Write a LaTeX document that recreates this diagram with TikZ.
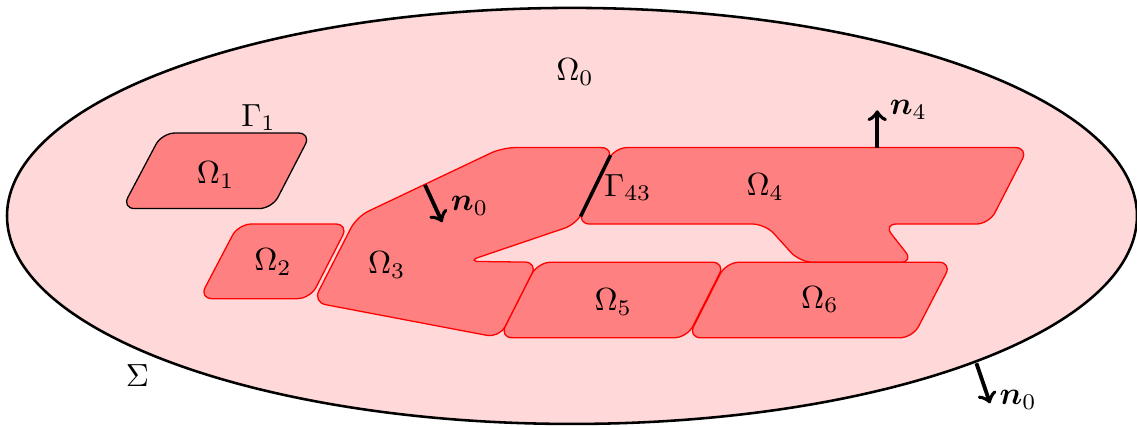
\documentclass[tikz,border=0pt]{standalone}
\usepackage{amsmath, amssymb}
\usepackage{tikz}
\usetikzlibrary{calc}

\begin{document}
\begin{tikzpicture}[
    every node/.style={align=center},
    outer/.style={thick, fill=red!15},
    subdom/.style={draw=red, fill=red!50, rounded corners},
    normalvec/.style={->, very thick},
    iface/.style={line width=1.1pt}
]
\useasboundingbox (0,0) rectangle (12.495,4.692);

% Outer region
\draw[outer] (6.286,2.319) ellipse (6.209 and 2.286);

% Corners
\coordinate (a) at (3.44,1.37);
\coordinate (b) at (3.92,2.31);
\coordinate (c) at (5.52,3.07);
\coordinate (d) at (6.75,3.07);
\coordinate (e) at (6.34,2.23);
\coordinate (g) at (5.13,1.82);
\coordinate (h) at (5.91,1.81);
\coordinate (i) at (5.49,0.98);

% Subdomains
\draw[subdom, draw=black] (1.34,2.40) -- (1.78,3.23) -- (3.42,3.23) -- (2.99,2.40) -- cycle;
\draw[subdom] (2.19,1.41) -- (2.62,2.23) -- (3.83,2.23) -- (3.41,1.41) -- cycle;
\draw[subdom] (a) -- (b) -- (c) -- (d) -- (e) -- (g) -- (h) -- (i) -- cycle;
\draw[subdom] (d) -- (11.30,3.07) -- (10.87,2.23) -- (9.71,2.23) -- (10.04,1.81)
    -- (8.79,1.81) -- (8.41,2.23) -- (e) -- cycle;
\draw[subdom] (i) -- (h) -- (7.97,1.81) -- (7.55,0.98) -- cycle;
\draw[subdom] (7.56,0.98) -- (7.98,1.81) -- (10.46,1.81) -- (10.03,0.98) -- cycle;

% Interface
\draw[iface] ($(d)!0.1!(e)$) -- ($(d)!0.9!(e)$);

% Labels
\node (om0) at (6.32,3.90) {$\Omega_0$};
\node (om1) at (2.37,2.77) {$\Omega_1$};
\node (om2) at (3.00,1.81) {$\Omega_2$};
\node (om3) at (4.25,1.78) {$\Omega_3$};
\node (om4) at (8.41,2.64) {$\Omega_4$};
\node (om5) at (6.74,1.37) {$\Omega_5$};
\node (om6) at (9.01,1.40) {$\Omega_6$};
\node (gam1) at (2.84,3.40) {$\Gamma_1$};
\node (gam43) at (6.90,2.63) {$\Gamma_{43}$};
\node (sig) at (1.51,0.56) {$\Sigma$};

% Normals
\coordinate (n4s) at (9.64,3.07);
\coordinate (n4e) at (9.64,3.48);
\draw[normalvec] (n4s) -- (n4e) node[right] (n4) {$\boldsymbol{n}_4$};
\coordinate (n0s) at (4.67,2.66);
\coordinate (n0e) at (4.86,2.25);
\draw[normalvec] (n0s) -- (n0e);
\node (n0) at (5.16,2.43) {$\boldsymbol{n}_0$};
\coordinate (m0s) at (10.73,0.70);
\coordinate (m0e) at (10.88,0.26);
\draw[normalvec] (m0s) -- (m0e);
\node (m0) at (11.19,0.30) {$\boldsymbol{n}_0$};

\end{tikzpicture}
\end{document}
